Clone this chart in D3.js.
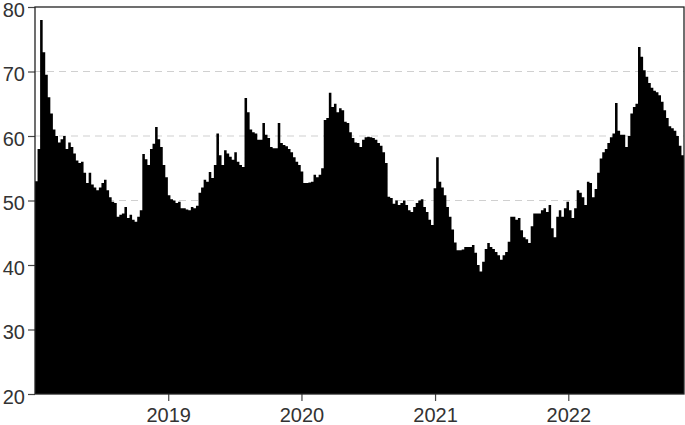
<!DOCTYPE html>
<meta charset="utf-8">
<script src="https://d3js.org/d3.v7.min.js"></script>
<style>
  body { margin: 0; background: #fff; }
  text { font-family: "Liberation Sans", Arial, sans-serif; }
</style>
<div id="chart"></div>
<script>
  // weekly series, first week starting 2018-01-01
  var startDate = "2018-01-01";
  var values = [
    53, 58, 78, 73, 69.5, 66, 63.5, 61, 60, 59,
    59.5, 60, 58, 59, 58.3, 57.3, 56.2, 55.8, 56, 54.3,
    52.7, 54.3, 52.5, 52, 51.6, 52, 52.7, 53.2, 51.6, 50.5,
    49.8, 49.6, 47.5, 47.8, 48, 49, 47.3, 47.8, 47, 46.7,
    47.5, 48.5, 57.2, 56.4, 55.5, 58, 58.8, 61.4, 59.5, 58.3,
    55.5, 53.6, 50.8, 50.2, 50, 49.6, 49.8, 48.8, 48.8, 48.6,
    48.5, 49, 48.8, 49.2, 51.2, 52, 53.2, 52.9, 54.4, 53.5,
    55.5, 60.4, 57, 55.5, 57.8, 57.3, 56.8, 56.3, 57.5, 56,
    55.5, 55.2, 65.9, 63.7, 61, 60.6, 60.4, 59.4, 59.4, 62,
    60.2, 59.7, 58.3, 58.1, 58.1, 62, 58.9, 58.6, 58.4, 58,
    57.5, 56.7, 56, 55.5, 54.5, 52.7, 52.7, 52.8, 52.9, 54,
    53.6, 54, 55, 62.5, 62.8, 66.7, 64.5, 65, 63.7, 64.3,
    64, 62.2, 62, 60.6, 59.7, 59, 58.9, 58.3, 59.4, 59.8,
    59.9, 59.8, 59.7, 59.4, 58.9, 58.5, 57.5, 55.8, 50.6, 50.4,
    49.5, 50, 49.3, 49.6, 50, 49.3, 48.5, 48.2, 49, 49.6,
    50, 50.2, 49, 48.2, 47, 46.2, 51.9, 56.7, 52.9, 52,
    50.8, 49, 47.5, 45.5, 43.5, 42.3, 42.3, 42.4, 42.8, 42.8,
    42.8, 43.1, 41.9, 40, 39, 40.5, 42.5, 43.4, 42.8, 42.5,
    42, 41.5, 40.8, 41.5, 42, 43.6, 47.5, 47.5, 47, 47.3,
    45.4, 44.3, 44, 43.4, 46, 48, 48, 48, 48.5, 48.8,
    48.2, 49.3, 45.7, 44.3, 47.5, 48.5, 47.5, 48.8, 49.8, 48.5,
    47.3, 48.8, 51.6, 51.2, 50.5, 49.3, 52.9, 52.7, 50.5, 51.8,
    54.3, 56.5, 57.5, 58, 58.9, 59.8, 60.4, 65.1, 60.8, 60.2,
    60.2, 58.3, 60, 63.5, 64.5, 65, 73.8, 72.3, 70.2, 69.2,
    68.2, 67.5, 67, 66.8, 66.3, 65.3, 64, 62.8, 61.5, 61.2,
    60.8, 60, 58.5, 57, 56.3
  ];
  var yTicks = [20, 30, 40, 50, 60, 70, 80];
  var gridTicks = [50, 60, 70];
  var xTickYears = ["2019-01-01", "2020-01-01", "2021-01-01", "2022-01-01"];
  var xEnd = "2022-11-14";

  var W = 685, H = 425;
  var margin = { top: 7, right: 1, bottom: 31, left: 35 },
    width = W - margin.left - margin.right,
    height = H - margin.top - margin.bottom;

  var parse = d3.utcParse("%Y-%m-%d");
  var t0 = parse(startDate);
  var data = values.map(function (v, i) {
    return { date: d3.utcDay.offset(t0, i * 7), value: v };
  });

  var svg = d3.select("#chart")
    .append("svg")
    .attr("width", W)
    .attr("height", H)
    .append("g")
    .attr("transform", "translate(" + margin.left + "," + margin.top + ")");

  var x = d3.scaleUtc()
    .domain([t0, parse(xEnd)])
    .range([0, width]);
  var y = d3.scaleLinear()
    .domain([20, 80])
    .range([height, 0]);

  svg.append("defs").append("clipPath")
    .attr("id", "clip")
    .append("rect")
    .attr("width", width)
    .attr("height", height);

  // dashed grid lines behind the area
  svg.append("g")
    .selectAll("line")
    .data(gridTicks)
    .enter()
    .append("line")
    .attr("x1", 0)
    .attr("x2", width)
    .attr("y1", function (d) { return y(d); })
    .attr("y2", function (d) { return y(d); })
    .style("stroke", "#d0d0d0")
    .style("stroke-width", 1.2)
    .style("stroke-dasharray", "7,5");

  var area = d3.area()
    .curve(d3.curveStepAfter)
    .x(function (d) { return x(d.date); })
    .y0(y(20))
    .y1(function (d) { return y(d.value); });

  svg.append("path")
    .datum(data)
    .attr("clip-path", "url(#clip)")
    .attr("d", area)
    .style("fill", "#000")
    .style("stroke", "none");

  // axes
  var yAxis = d3.axisLeft(y)
    .tickValues(yTicks)
    .tickSize(7)
    .tickPadding(3);
  var xAxis = d3.axisBottom(x)
    .tickValues(xTickYears.map(parse))
    .tickFormat(d3.utcFormat("%Y"))
    .tickSize(7)
    .tickPadding(7);

  var gY = svg.append("g").call(yAxis);
  var gX = svg.append("g")
    .attr("transform", "translate(0," + height + ")")
    .call(xAxis);

  [gX, gY].forEach(function (g) {
    g.select(".domain").remove();
    g.selectAll(".tick line").style("stroke", "#444").style("stroke-width", 1.2);
    g.selectAll(".tick text")
      .style("font-size", "20px")
      .style("fill", "#333")
      .style("font-family", "'Liberation Sans', Arial, sans-serif");
  });
  gY.selectAll(".tick text").attr("dy", "0.46em");

  // plot frame
  svg.append("rect")
    .attr("x", 0)
    .attr("y", 0)
    .attr("width", width)
    .attr("height", height)
    .style("fill", "none")
    .style("stroke", "#222")
    .style("stroke-width", 1.3);
</script>
